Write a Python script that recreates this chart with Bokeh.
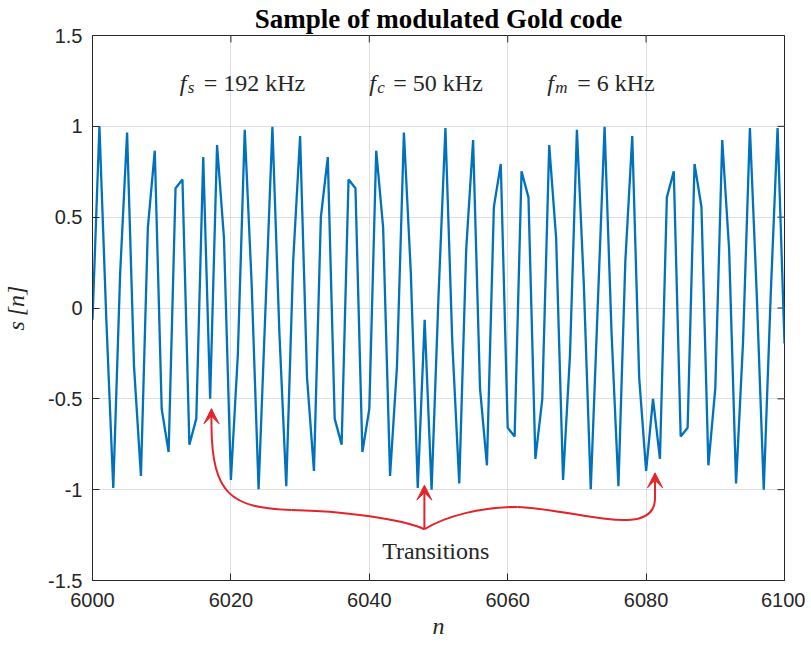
from bokeh.plotting import figure
from bokeh.models import Range1d, FixedTicker, Label, Arrow, VeeHead
from bokeh.embed import file_html
from bokeh.resources import INLINE

# ---- data -------------------------------------------------------------
n = list(range(6000, 6101))
s = [
    -0.065, 1.000, -0.065, -0.991, 0.195, 0.966, -0.321, -0.924, 0.442, 0.866,
    -0.556, -0.793, 0.659, 0.707, -0.752, -0.609, 0.831,
    -0.500, 0.897, 0.383, -0.947, -0.259, 0.981, 0.131, -0.998, 0.000, 0.998,
    -0.131, -0.981, 0.259, 0.947, -0.383, -0.897, 0.500, 0.831, -0.609, -0.752,
    0.707, 0.659, -0.793, -0.556, 0.866, 0.442, -0.924, -0.321, 0.966, 0.195,
    -0.991, -0.065,
    -1.000, 0.065, 0.991, -0.195, -0.966, 0.321, 0.924, -0.442, -0.866, 0.556,
    0.793, -0.659, -0.707, 0.752, 0.609, -0.831, -0.500, 0.897, 0.383, -0.947,
    -0.259, 0.981, 0.131, -0.998, 0.000, 0.998, -0.131, -0.981, 0.259, 0.947,
    -0.383, -0.897,
    -0.500, -0.831, 0.609, 0.752, -0.707, -0.659, 0.793, 0.556, -0.866, -0.442,
    0.924, 0.321, -0.966, -0.195, 0.991, 0.065, -1.000, 0.065, 0.991, -0.195,
]

x_ticks = [6000, 6020, 6040, 6060, 6080, 6100]
y_ticks = [-1.5, -1, -0.5, 0, 0.5, 1, 1.5]
y_tick_labels = ["-1.5", "-1", "-0.5", "0", "0.5", "1", "1.5"]

title_text = "Sample of modulated Gold code"
x_label = "n"
y_label = "s\u2009[n]"

param_sub = ["s", "c", "m"]
param_rest = ["= 192 kHz", "= 50 kHz", "= 6 kHz"]
param_x = [6012.6, 6040.0, 6065.7]
param_y = 1.24

note_text = "Transitions"
note_x = 6049.6
note_y = -1.338

# annotation path (data units): two brace-like bezier branches + 3 arrows
bz_x0 = [6047.96, 6028.78, 6047.96, 6061.44]
bz_y0 = [-1.218, -1.112, -1.218, -1.095]
bz_cx0 = [6044.60, 6020.14, 6051.08, 6070.50]
bz_cy0 = [-1.161, -1.101, -1.145, -1.112]
bz_cx1 = [6035.97, 6017.27, 6056.12, 6081.29]
bz_cy1 = [-1.117, -1.030, -1.095, -1.276]
bz_x1 = [6028.78, 6017.19, 6061.44, 6081.29]
bz_y1 = [-1.112, -0.646, -1.095, -1.046]

arr_x = [6017.19, 6047.96, 6081.29]
arr_y0 = [-0.646, -1.218, -1.046]
arr_y1 = [-0.554, -0.975, -0.907]

# ---- styles -----------------------------------------------------------
AX = "#262626"
GRID = "#dfdfdf"
BLUE = "#0072BD"
RED = "#e3242b"
SANS = "Liberation Sans"
SERIF = "Liberation Serif"

p = figure(width=805, height=647,
           x_range=Range1d(6000, 6100), y_range=Range1d(-1.5, 1.5),
           output_backend="svg", toolbar_location=None,
           min_border_left=89, min_border_right=21,
           min_border_top=33, min_border_bottom=67)
p.background_fill_color = "white"
p.border_fill_color = "white"
p.outline_line_color = AX
p.outline_line_width = 1

p.title.text = title_text
p.title.align = "center"
p.title.text_font = SERIF
p.title.text_font_style = "bold"
p.title.text_font_size = "27px"
p.title.text_color = "black"
p.title.standoff = 3

p.xgrid.ticker = FixedTicker(ticks=x_ticks)
p.ygrid.ticker = FixedTicker(ticks=y_ticks)
for g in (p.xgrid[0], p.ygrid[0]):
    g.grid_line_color = GRID
    g.grid_line_width = 1

def style_axis(ax):
    ax.axis_line_color = AX
    ax.major_tick_line_color = AX
    ax.major_tick_in = 7
    ax.major_tick_out = 0
    ax.minor_tick_line_color = None
    ax.major_label_text_font = SANS
    ax.major_label_text_color = AX
    ax.major_label_text_font_size = "20px"
    ax.axis_label_text_font = SERIF
    ax.axis_label_text_font_style = "italic"
    ax.axis_label_text_font_size = "24px"
    ax.axis_label_text_color = AX

xa = p.xaxis[0]
xa.ticker = FixedTicker(ticks=x_ticks)
style_axis(xa)
xa.major_label_standoff = 12
xa.axis_label = x_label
xa.axis_label_standoff = 3

ya = p.yaxis[0]
ya.ticker = FixedTicker(ticks=y_ticks)
ya.major_label_overrides = {t: l for t, l in zip(y_ticks, y_tick_labels)}
style_axis(ya)
ya.major_label_standoff = 10
ya.axis_label = y_label
ya.axis_label_standoff = 16

# inner ticks on the top and right edges of the box (MATLAB "box on")
tick_dy = 7 * 3.0 / 547
tick_dx = 7 * 100.0 / 695
p.segment(x0=x_ticks, y0=[1.5] * len(x_ticks), x1=x_ticks,
          y1=[1.5 - tick_dy] * len(x_ticks), line_color=AX, line_width=1)
p.segment(x0=[6100] * len(y_ticks), y0=y_ticks, x1=[6100 - tick_dx] * len(y_ticks),
          y1=y_ticks, line_color=AX, line_width=1)

# ---- signal -----------------------------------------------------------
p.line(n, s, line_color=BLUE, line_width=2.3)

# ---- parameter texts ---------------------------------------------------
for px, sub, rest in zip(param_x, param_sub, param_rest):
    p.add_layout(Label(x=px, y=param_y, text="f", text_font=SERIF,
                       text_font_style="italic", text_font_size="24px",
                       text_color=AX, text_baseline="alphabetic"))
    p.add_layout(Label(x=px, y=param_y, x_offset=8, y_offset=-5, text=sub,
                       text_font=SERIF, text_font_style="italic",
                       text_font_size="17px", text_color=AX,
                       text_baseline="alphabetic"))
    off = 8 + (13 if sub == "m" else 7) + 9
    p.add_layout(Label(x=px, y=param_y, x_offset=off, text=rest,
                       text_font=SERIF, text_font_size="24px",
                       text_color=AX, text_baseline="alphabetic"))

# ---- transitions annotation -------------------------------------------
p.bezier(x0=bz_x0, y0=bz_y0, x1=bz_x1, y1=bz_y1,
         cx0=bz_cx0, cy0=bz_cy0, cx1=bz_cx1, cy1=bz_cy1,
         line_color=RED, line_width=2)
for ax_, y0_, y1_ in zip(arr_x, arr_y0, arr_y1):
    p.add_layout(Arrow(end=VeeHead(size=15, fill_color=RED, line_color=RED,
                                   line_width=1),
                       x_start=ax_, y_start=y0_, x_end=ax_, y_end=y1_,
                       line_color=RED, line_width=2))
p.add_layout(Label(x=note_x, y=note_y, text=note_text, text_align="center",
                   text_baseline="alphabetic", text_font=SERIF,
                   text_font_size="24px", text_color=AX))

open("out.html", "w").write(file_html(p, INLINE))
